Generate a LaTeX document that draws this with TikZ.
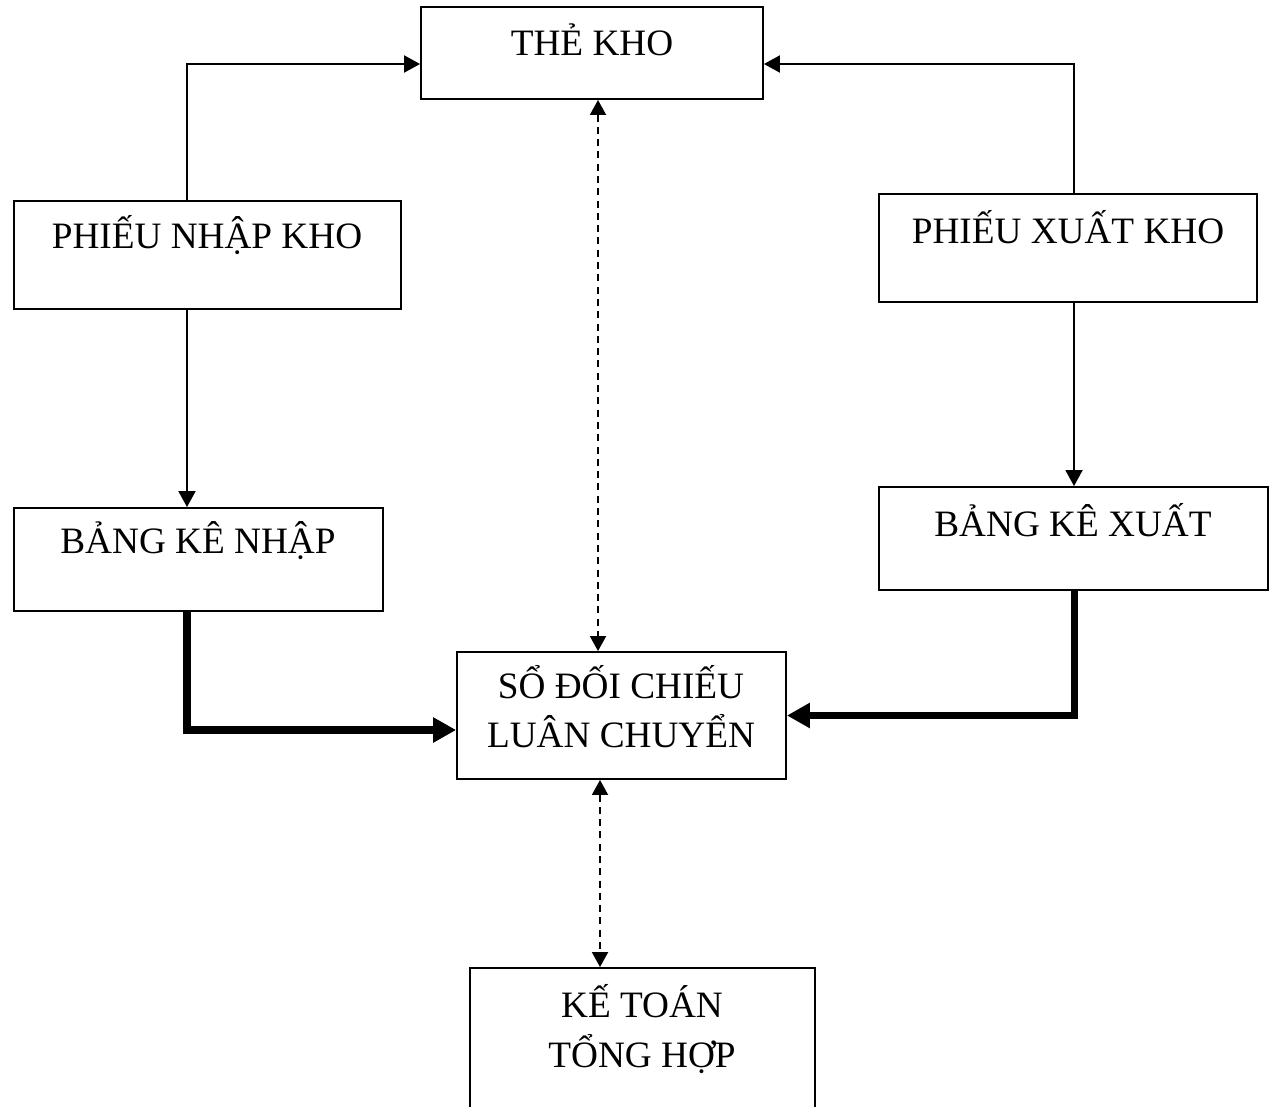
\documentclass[tikz,border=0pt]{standalone}
\usepackage{fontspec}
\setmainfont{Liberation Serif}
\usetikzlibrary{arrows.meta}
\begin{document}
\begin{tikzpicture}[x=0.02cm,y=-0.02cm,
  box/.style={draw,line width=1.1pt,minimum width=#1,inner sep=0pt},
  lbl/.style={font=\fontsize{21.2}{28}\selectfont,align=center,inner sep=0pt},
  thinarrow/.style={line width=1.1pt,-{Triangle[length=0.32cm,width=0.34cm]}},
  thickarrow/.style={line width=4pt,-{Triangle[length=0.46cm,width=0.48cm]}},
  dasharrow/.style={line width=1.1pt,dash pattern=on 4pt off 3pt,
    {Triangle[length=0.3cm,width=0.32cm]}-{Triangle[length=0.3cm,width=0.32cm]}}]
\clip (0,0) rectangle (1277,1106);
\fill[white] (0,0) rectangle (1277,1106);

% boxes
\node[box=6.84cm,minimum height=1.84cm] (the)  at (592,53) {};
\node[box=7.74cm,minimum height=2.16cm] (pnk)  at (207.5,255) {};
\node[box=7.56cm,minimum height=2.16cm] (pxk)  at (1068,248) {};
\node[box=7.38cm,minimum height=2.06cm] (bkn)  at (198.5,559.5) {};
\node[box=7.78cm,minimum height=2.06cm] (bkx)  at (1073.5,538.5) {};
\node[box=6.58cm,minimum height=2.54cm] (sdc)  at (621.5,715.5) {};
\node[box=6.90cm,minimum height=3.24cm] (ktth) at (642.5,1049) {};

% texts
\node[lbl] (tthe)  at (592,40)   {THẺ KHO};
\node[lbl] (tpnk)  at (207,235)  {PHIẾU NHẬP KHO};
\node[lbl] (tpxk)  at (1068,227) {PHIẾU XUẤT KHO};
\node[lbl] (tbkn)  at (198,541)  {BẢNG KÊ NHẬP};
\node[lbl] (tbkx)  at (1073,520) {BẢNG KÊ XUẤT};
\node[lbl] (tsdc)  at (621,707)  {SỔ ĐỐI CHIẾU\\LUÂN CHUYỂN};
\node[lbl] (tktth) at (642,1029) {KẾ TOÁN\\TỔNG HỢP};

% routing columns
\coordinate (lcol) at (187,0);
\coordinate (rcol) at (1074,0);
\coordinate (dcol1) at (598,0);
\coordinate (dcol2) at (600,0);

% thin flows
\draw[thinarrow] (pnk.north -| lcol) |- ([yshift=-0.22cm]the.west);
\draw[thinarrow] (pxk.north -| rcol) |- ([yshift=-0.22cm]the.east);
\draw[thinarrow] (pnk.south -| lcol) -- (bkn.north -| lcol);
\draw[thinarrow] (pxk.south -| rcol) -- (bkx.north -| rcol);

% thick flows
\draw[thickarrow] (bkn.south -| lcol) |- ([yshift=-0.29cm]sdc.west);
\draw[thickarrow] (bkx.south -| rcol) |- (sdc.east);

% dashed links
\draw[dasharrow] (the.south -| dcol1) -- (sdc.north -| dcol1);
\draw[dasharrow] (sdc.south -| dcol2) -- (ktth.north -| dcol2);
\end{tikzpicture}
\end{document}
